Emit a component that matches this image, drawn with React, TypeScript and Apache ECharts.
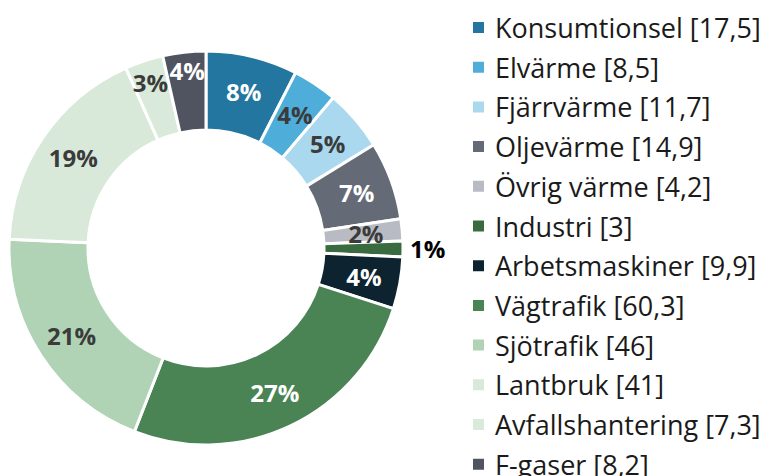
import React, { useEffect, useRef } from "react";
import * as echarts from "echarts";

const categories = [
  "Konsumtionsel",
  "Elvärme",
  "Fjärrvärme",
  "Oljevärme",
  "Övrig värme",
  "Industri",
  "Arbetsmaskiner",
  "Vägtrafik",
  "Sjötrafik",
  "Lantbruk",
  "Avfallshantering",
  "F-gaser",
];
const values = [17.5, 8.5, 11.7, 14.9, 4.2, 3, 9.9, 60.3, 46, 41, 7.3, 8.2];
const percentLabels = ["8%", "4%", "5%", "7%", "2%", "1%", "4%", "27%", "21%", "19%", "3%", "4%"];
const colors = [
  "#22769f",
  "#4faed9",
  "#a9d8ef",
  "#656a77",
  "#b8bbc3",
  "#3a6b40",
  "#0d2330",
  "#4a8354",
  "#afd3b4",
  "#d8e9da",
  "#d9eadb",
  "#4f5460",
];
const labelColors = [
  "#ffffff",
  "#3b3b3b",
  "#3b3b3b",
  "#ffffff",
  "#3b3b3b",
  "#000000",
  "#ffffff",
  "#ffffff",
  "#3b3b3b",
  "#3b3b3b",
  "#3b3b3b",
  "#ffffff",
];
const outsideIndex = 5;
const labelShift: Record<number, [number, number]> = {
  10: [-5, -13],
  11: [-1, -18],
};

export default function App() {
  const ref = useRef<HTMLDivElement>(null);
  useEffect(() => {
    if (!ref.current) return;
    const chart = echarts.init(ref.current, null, { renderer: "svg" });
    const data = categories.map((name, i) => ({
      name,
      value: values[i],
      itemStyle: { color: colors[i] },
      label:
        i === outsideIndex
          ? { position: "outside", color: labelColors[i] }
          : { position: "inside", color: labelColors[i] },
      labelLine: { show: false, length: 2, length2: 0 },
    }));
    chart.setOption({
      animation: false,
      legend: {
        orient: "vertical",
        left: 466,
        top: 9,
        height: 520,
        itemWidth: 13,
        itemHeight: 13,
        itemGap: 12.7,
        icon: "rect",
        data: categories,
        formatter: (name: string) => {
          const i = categories.indexOf(name);
          return `${name} [${String(values[i]).replace(".", ",")}]`;
        },
        textStyle: {
          fontFamily: "Open Sans",
          fontSize: 27,
          color: "#1a1a1a",
          padding: [0, 0, 0, 5],
        },
      },
      series: [
        {
          type: "pie",
          center: [206, 248],
          radius: [118, 197],
          startAngle: 90,
          clockwise: true,
          avoidLabelOverlap: false,
          itemStyle: { borderColor: "#ffffff", borderWidth: 3 },
          label: {
            show: true,
            fontFamily: "Open Sans",
            fontWeight: "bold",
            fontSize: 24,
            formatter: (p: any) => percentLabels[p.dataIndex],
          },
          labelLayout: (p: any) => {
            const s = labelShift[p.dataIndex];
            return s ? { dx: s[0], dy: s[1] } : {};
          },
          emphasis: { disabled: true },
          data,
        },
      ],
    });
    return () => chart.dispose();
  }, []);
  return (
    <div
      ref={ref}
      style={{ position: "fixed", left: 0, top: 0, width: 773, height: 476, background: "#fff" }}
    />
  );
}
